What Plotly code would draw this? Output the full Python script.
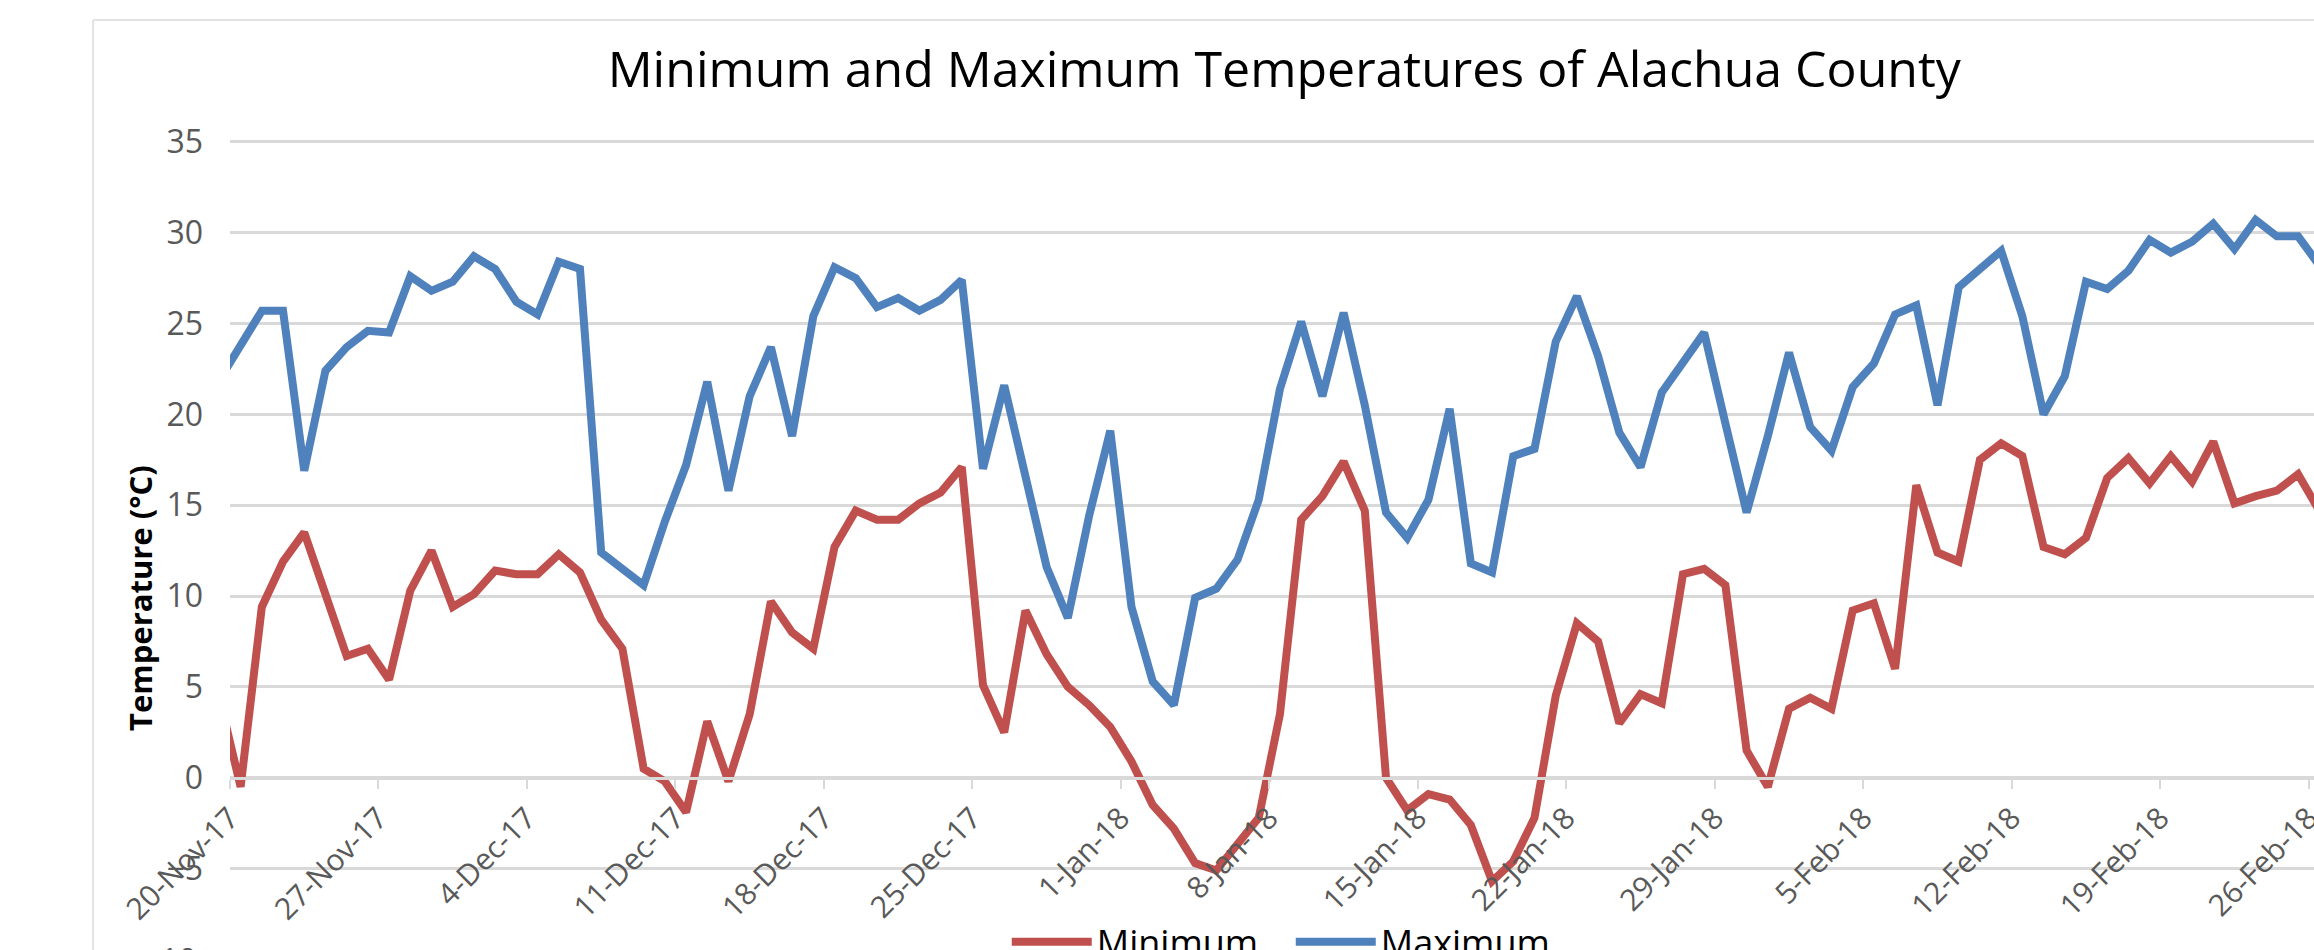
import pandas as pd
import plotly.graph_objects as go

# ---- data (daily values, 19-Nov-2017 .. 26-Feb-2018) ----
start_date = "2017-11-19"
n_days = 100

t_max = [21.9, 23.8, 25.7, 25.7, 16.9, 22.4, 23.7, 24.6, 24.5, 27.6, 26.8, 27.3,
         28.7, 28.0, 26.2, 25.5, 28.4, 28.0, 12.4, 11.5, 10.6, 14.1, 17.2, 21.8,
         15.8, 21.0, 23.7, 18.8, 25.4, 28.1, 27.5, 25.9, 26.4, 25.7, 26.3, 27.4,
         17.0, 21.6, 16.5, 11.6, 8.8, 14.4, 19.1,
         9.4, 5.3, 4.0, 9.9, 10.4, 12.0, 15.3, 21.4, 25.1, 21.0, 25.6, 20.5,
         14.6, 13.2, 15.3, 20.3, 11.8, 11.3, 17.7, 18.1, 24.0, 26.5, 23.2, 19.0,
         17.1, 21.2, 22.8, 24.5, 19.5, 14.6, 18.8,
         23.4, 19.3, 18.0, 21.5, 22.8, 25.5, 26.0, 20.5, 27.0, 28.0, 29.0, 25.4,
         20.0, 22.1, 27.3, 26.9, 27.9, 29.6, 28.9, 29.5, 30.5, 29.1, 30.7, 29.8,
         29.8, 28.2]

t_min = [4.4, -0.5, 9.4, 11.9, 13.5, 10.1, 6.7, 7.1, 5.4, 10.3, 12.5, 9.4,
         10.1, 11.4, 11.2, 11.2, 12.3, 11.3, 8.7, 7.1, 0.5, -0.2, -1.9, 3.1,
         -0.2, 3.5, 9.7, 8.0, 7.1, 12.7, 14.7, 14.2, 14.2, 15.1, 15.7, 17.1,
         5.1, 2.5, 9.2, 6.8, 5.0, 4.0, 2.8,
         0.9, -1.5, -2.8, -4.7, -5.1, -3.7, -2.2, 3.5, 14.2, 15.5, 17.4, 14.7,
         0.0, -1.8, -0.9, -1.2, -2.6, -5.7, -4.6, -2.2, 4.5, 8.5, 7.5, 3.0,
         4.6, 4.1, 11.2, 11.5, 10.6, 1.5, -0.5,
         3.8, 4.4, 3.8, 9.2, 9.6, 6.0, 16.1, 12.4, 11.9, 17.5, 18.4, 17.7,
         12.7, 12.3, 13.2, 16.5, 17.6, 16.2, 17.7, 16.3, 18.5, 15.1, 15.5, 15.8,
         16.7, 14.7]

series_names = ["Minimum", "Maximum"]
title_text = "Minimum and Maximum Temperatures of Alachua County"
y_title = "Temperature (°C)"
y_ticks = [-5, 0, 5, 10, 15, 20, 25, 30, 35]

# each day is plotted in the middle of its date slot (Excel "between tick marks")
dates = pd.date_range(start_date, periods=n_days, freq="D") + pd.Timedelta(hours=12)

RED = "#C0504D"
BLUE = "#4F81BD"
GRID = "#D9D9D9"
Y_TICK_FONT = dict(family="Open Sans", size=32, color="#595959")
X_TICK_FONT = dict(family="Open Sans", size=30, color="#595959")

y_range = [-9.48, 35.1]
x_range = ["2017-11-20 00:00", "2018-02-26 06:00"]

fig = go.Figure()
fig.add_trace(go.Scatter(x=dates, y=t_min, mode="lines", name=series_names[0],
                         line=dict(color=RED, width=8)))
fig.add_trace(go.Scatter(x=dates, y=t_max, mode="lines", name=series_names[1],
                         line=dict(color=BLUE, width=8)))

zero_pos = (0 - y_range[0]) / (y_range[1] - y_range[0])

fig.update_layout(
    width=2314, height=950,
    margin=dict(l=230, r=0, t=140, b=0, autoexpand=False),
    paper_bgcolor="white", plot_bgcolor="white",
    title=dict(text=title_text, x=0.555, xref="container", xanchor="center",
               y=0.927, yref="container", yanchor="middle",
               font=dict(family="Open Sans", size=50, color="#000000")),
    showlegend=True,
    legend=dict(orientation="h", x=0.509, xanchor="center", y=0.01, yanchor="middle",
                font=dict(family="Open Sans", size=36, color="#000000"),
                bgcolor="rgba(0,0,0,0)", itemwidth=80, entrywidth=189),
    xaxis=dict(type="date", range=x_range, tick0="2017-11-20", dtick=7 * 86400000,
               tickformat="%-d-%b-%y", tickangle=-45, tickfont=X_TICK_FONT,
               ticklabeloverflow="allow",
               showgrid=False, anchor="free", position=zero_pos,
               ticks="outside", ticklen=9, tickwidth=2, tickcolor=GRID,
               showline=True, linecolor=GRID, linewidth=2.5, zeroline=False),
    yaxis=dict(range=y_range, tickvals=y_ticks, tickfont=Y_TICK_FONT,
               showgrid=True, gridcolor=GRID, gridwidth=2.5,
               zeroline=True, zerolinecolor=GRID, zerolinewidth=2.5,
               showline=False, ticks="", ticklabelstandoff=26),
)

# y-axis title (bold, rotated), cut "-10" tick label and faint chart-area frame
fig.add_annotation(text=y_title, textangle=-90, xref="paper", yref="paper",
                   x=-0.0435, y=0.435, xanchor="center", yanchor="middle", showarrow=False,
                   font=dict(family="Open Sans", size=31, color="#000000", weight="bold"))
fig.add_annotation(text="-10", xref="paper", yref="paper", x=-0.0149, y=-0.0123,
                   xanchor="right", yanchor="middle", showarrow=False, font=Y_TICK_FONT)
fig.add_shape(type="line", xref="paper", yref="paper", x0=-0.0657, x1=-0.0657,
              y0=-0.05, y1=1.148, line=dict(color="#E3E3E3", width=2))
fig.add_shape(type="line", xref="paper", yref="paper", x0=-0.0657, x1=1.01,
              y0=1.148, y1=1.148, line=dict(color="#E3E3E3", width=2))

fig.write_html("out.html", config={"displayModeBar": False},
               post_script="document.body.style.margin='0';document.body.style.overflow='hidden';")
